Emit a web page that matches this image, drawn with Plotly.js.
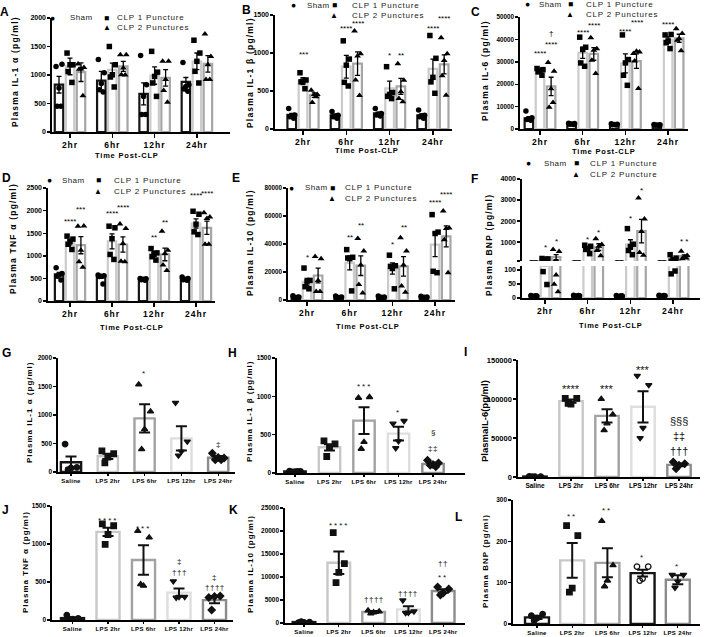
<!DOCTYPE html>
<html><head><meta charset="utf-8">
<script src="https://cdn.plot.ly/plotly-3.0.1.min.js"></script>
<style>html,body{margin:0;padding:0;background:#fff;}</style>
</head><body><div id="chart" style="width:709px;height:637px;"></div>
<script>
// ================= DATA =================
const timeLabels = ['2hr','6hr','12hr','24hr'];
const groupNames = ['Sham','CLP 1 Puncture','CLP 2 Punctures'];
const groupNamesF = ['Sham','CLP 1 Puncture','CLP 2 Puncture'];
const lpsLabels = ['Saline','LPS 2hr','LPS 6hr','LPS 12hr','LPS 24hr'];

// A: IL-1 alpha (CLP)
const A_sham = [830, 900, 670, 880];
const A_clp1 = [1150, 1090, 990, 1240];
const A_clp2 = [1050, 1150, 950, 1195];
const A_sham_err = [146, 164, 193, 76];
const A_clp1_err = [146, 117, 152, 146];
const A_clp2_err = [164, 88, 146, 146];
const A_sham_pts = [[1150,1190,770,450,450],[1270,1040,850,740,700],[1340,830,625,305,305],[1220,830,800,755,715]];
const A_clp1_pts = [[1385,1180,1180,1060,870],[1500,1180,1005,965,790],[1415,1050,975,860,625],[1610,1385,1240,1065,860]];
const A_clp2_pts = [[1195,1130,1105,1100,635],[1355,1355,1125,1005,1000],[1240,1240,920,730,520],[1720,1325,1180,920,920]];
const A_sig = [];

// B: IL-1 beta (CLP)
const B_sham = [185, 180, 205, 180];
const B_clp1 = [630, 820, 535, 790];
const B_clp2 = [445, 860, 560, 850];
const B_sham_err = [20, 15, 18, 18];
const B_clp1_err = [45, 150, 95, 130];
const B_clp2_err = [30, 155, 105, 125];
const B_sham_pts = [[270,185,170,160,140],[230,180,170,160,140],[270,205,195,185,170],[250,180,170,160,140]];
const B_clp1_pts = [[740,645,630,620,530],[1160,920,840,614,566],[820,480,455,430,400],[1230,930,680,620,470]];
const B_clp2_pts = [[510,455,455,350,425],[1290,990,960,645,440],[860,640,490,400,360],[1200,990,900,700,445]];
const B_sig = [[0,1,'***',1009],[1,1,'****',1347],[1,2,'****',1421],[2,1,'*',996],[2,2,'**',996],[3,1,'****',1355],[3,2,'****',1478]];

// C: IL-6 (CLP)
const C_sham = [4800, 2300, 2000, 1800];
const C_clp1 = [25700, 34000, 29300, 39800];
const C_clp2 = [19000, 33500, 30300, 40500];
const C_sham_err = [700, 150, 120, 100];
const C_clp1_err = [600, 2500, 4200, 1300];
const C_clp2_err = [4100, 2800, 3200, 1800];
const C_sham_pts = [[8000,5000,4500,4200,3900],[2600,2400,2200,2100,2000],[2300,2100,2000,1900,1800],[2000,1900,1800,1700,1600]];
const C_clp1_pts = [[27000,26500,26200,25500,24000],[41000,36500,35500,29500,28000],[42000,31000,29500,24000,19500],[42000,42200,39300,38500,35900]];
const C_clp2_pts = [[29700,25800,18000,9700,11800],[40700,35800,35200,30700,24800],[33700,34400,34700,30400,18100],[44800,42600,40300,39600,34900]];
const C_sig = [[0,1,'****',34430],[0,2,'****',38440],[0,2,'†',42590],[1,1,'****',43780],[1,2,'****',47040],[2,1,'****',44370],[2,2,'****',48230],[3,1,'****',47340],[3,2,'****',51200]];

// D: TNF alpha (CLP)
const D_sham = [590, 535, 480, 485];
const D_clp1 = [1295, 1320, 1045, 1715];
const D_clp2 = [1235, 1250, 1030, 1620];
const D_sham_err = [45, 35, 10, 12];
const D_clp1_err = [55, 165, 45, 100];
const D_clp2_err = [190, 170, 140, 145];
const D_sham_pts = [[735,610,580,550,465],[575,560,550,540,375],[500,490,480,470,460],[530,500,480,470,460]];
const D_clp1_pts = [[1435,1370,1320,1255,1140],[1655,1620,1380,1030,920],[1160,1065,1030,980,905],[1985,1920,1700,1530,1470]];
const D_clp2_pts = [[1655,1660,1125,870,745],[1705,1605,1270,880,870],[1545,1125,1050,795,675],[1955,1860,1825,1255,1255]];
const D_sig = [[0,1,'****',1809],[0,2,'***',2059],[1,1,'****',1985],[1,2,'****',2103],[2,1,'**',1456],[2,2,'**',1787],[3,1,'****',2375],[3,2,'****',2426]];

// E: IL-10 (CLP)
const E_sham = [2100, 2000, 2000, 1900];
const E_clp1 = [13000, 26500, 22500, 39500];
const E_clp2 = [17500, 24500, 24000, 45500];
const E_sham_err = [400, 300, 300, 300];
const E_clp1_err = [2500, 5000, 4000, 8500];
const E_clp2_err = [5200, 7000, 7000, 7500];
const E_sham_pts = [[3000,2200,1800,1500,2000],[2800,2200,1800,1500,1700],[2800,2100,1900,1600,1600],[2600,2100,1900,1500,1400]];
const E_clp1_pts = [[22800,14000,13000,9500,8000],[36000,30500,29500,30000,6500],[32000,24500,22500,24000,8000],[61000,48500,47500,20500,19500]];
const E_clp2_pts = [[31000,29500,14000,6000,6000],[44000,35000,25000,11000,5000],[44500,35000,25000,10000,5500],[63500,51500,51000,43000,19500]];
const E_sig = [[0,1,'*',32050],[1,1,'**',46290],[1,2,'**',54600],[2,1,'*',40830],[2,2,'**',52940],[3,1,'****',71220],[3,2,'****',76680]];

// F: BNP (CLP), broken axis
const F_sham = [7, 8, 7, 8];
const F_clp1 = [150, 700, 880, 200];
const F_clp2 = [280, 760, 1520, 330];
const F_sham_err = [1, 1, 1, 1];
const F_clp1_err = [35, 80, 230, 55];
const F_clp2_err = [120, 160, 560, 60];
const F_sham_pts = [[9,7,6,5,8],[10,8,7,6,9],[9,7,6,5,8],[10,8,7,6,9]];
const F_clp1_pts = [[220,200,180,94,48],[850,800,700,650,450],[1640,900,790,600,400],[400,240,160,86,96]];
const F_clp2_pts = [[650,555,82,49,22],[1160,890,800,600,350],[3100,2100,1500,500,370],[560,365,285,205,240]];
const F_sig = [[0,1,'*',841],[0,2,'*',1127],[1,1,'*',1238],[1,2,'*',1556],[2,1,'*',2238],[2,2,'*',3571],[3,2,'* *',1127]];

// G-L: LPS series
const G_vals = [170, 275, 940, 590, 250];
const G_err = [100, 45, 247, 212, 30];
const G_pts = [[490,80,70,40],[370,320,260,160],[1535,1060,750,400],[1215,535,360,290],[330,245,255,215,215]];
const G_sig = [[2,'*',1756],[4,'‡',477]];

const H_vals = [20, 335, 683, 513, 117];
const H_err = [3, 40, 175, 90, 20];
const H_pts = [[25,20,18,15,22],[420,380,330,215],[980,990,405,315],[645,680,415,325],[165,130,110,100,80]];
const H_sig = [[2,'***',1152],[3,'*',813],[4,'§',522],[4,'‡‡',326]];

const I_vals = [600, 97300, 78400, 90000, 15600];
const I_err = [100, 2000, 8500, 20000, 1800];
const I_pts = [[800,600,500,400],[100700,100700,93400,94300],[99900,80100,68600,60000],[129900,117900,63000,50100],[19300,17100,15000,10700]];
const I_sig = [[1,'****',115700],[2,'***',115700],[3,'***',139300],[4,'§§§',71570],[4,'‡‡',52290],[4,'†††',33000]];

const J_vals = [25, 1160, 790, 360, 262];
const J_err = [12, 55, 195, 55, 40];
const J_pts = [[65,20,12,8],[1265,1240,1125,995],[1170,1085,450,470],[510,305,305,295],[295,315,310,130]];
const J_sig = [[1,'****',1342],[2,'***',1224],[3,'‡',774],[3,'†††',621],[4,'‡',555],[4,'††††',424]];

const K_vals = [200, 13100, 2390, 2970, 6950];
const K_err = [60, 2450, 200, 650, 400];
const K_pts = [[100,200,150,300],[19650,12900,11000,8770],[2700,2500,2300,2050],[4930,2540,2250,2200],[7800,7400,6500,6100]];
const K_sig = [[1,'****',21590],[2,'††††',5145],[3,'††††',6376],[4,'††',13040],[4,'**',10360]];

const L_vals = [16, 154, 148, 123, 107];
const L_err = [4, 42, 35, 8, 11];
const L_pts = [[20,24,14,8],[238,214,87,77],[249,142,105,91],[139,139,110,105],[119,119,103,88]];
const L_sig = [[1,'**',265],[2,'**',280],[3,'*',166],[4,'*',143]];

// ================= LAYOUT / STYLE =================
const W = 709, H = 637;
const FONT = '"Liberation Sans", Arial, sans-serif';
const traces = [];
const ann = [];
const layout = {width:W, height:H, margin:{l:0,r:0,t:0,b:0,pad:0}, paper_bgcolor:'#fff', plot_bgcolor:'rgba(0,0,0,0)',
  showlegend:false, barmode:'overlay', annotations:ann, font:{family:FONT, color:'#000'}};
const nm = n => n === 1 ? '' : String(n);
const ls = (t, s) => '<span style="letter-spacing:' + s + 'px">' + t + '</span>';
const axBase = {showline:true, linecolor:'#000', linewidth:1.6, ticks:'outside', ticklen:3, tickwidth:1.4, tickcolor:'#000',
  showgrid:false, zeroline:false, fixedrange:true};
function fnt(size, bold, color){ return {family:FONT, size:size, weight: bold ? 700 : 400, color: color || '#000'}; }
function addText(px, py, text, opts){
  ann.push(Object.assign({x:px/W, y:1-py/H, xref:'paper', yref:'paper', text:text, showarrow:false,
    xanchor:'center', yanchor:'middle', font:fnt(8,false)}, opts || {}));
}

const topOff = [-0.26, 0, 0.26], topBW = 0.2;
const topColors = ['#151515', '#cbcbcb', '#a6a6a6'];
const topSyms = ['circle', 'square', 'triangle-up'];
const jit5 = [-0.07, 0.07, 0, -0.045, 0.045];

const TOPGEO = {
  A:{n:1,x0:52,x1:230,yT:18,yB:132,c0:70,sp:42.3,yr:[0,2000],dt:500,yf:7, yt:[15,72], xt:[127,155], leg:[53,68,107,115,18,28], let:[4,12]},
  B:{n:2,x0:275,x1:452,yT:15,yB:129,c0:303,sp:43.3,yr:[0,1500],dt:500,yf:7, yt:[250,73], xt:[367,150], leg:[293,305,334,350,5,15], let:[246,10]},
  C:{n:3,x0:520,x1:688,yT:17,yB:129,c0:540,sp:42.7,yr:[0,50000],dt:10000,yf:6.3, yt:[485,71], xt:[604,151], leg:[527,537,570,584,4,14], let:[476,12]},
  D:{n:4,x0:48,x1:215,yT:188,yB:301,c0:70,sp:42,yr:[0,2500],dt:500,yf:7, yt:[13,239], xt:[132,327], leg:[49,60,98,112,180,191], let:[6,178]},
  E:{n:5,x0:288,x1:455,yT:188,yB:300,c0:307,sp:42.7,yr:[0,80000],dt:20000,yf:6.3, yt:[250,243], xt:[368,326], leg:[291,303,332,343,188,198], let:[236,178]},
  F:{n:6,x0:522,x1:700,yT:266,yB:298,c0:545,sp:42.7,yr:[0,114],tv:[0,50,100],yf:7,
     up:{n:13,yT:179,yB:261,yr:[100,4000],tv:[100,1000,2000,3000,4000],tt:['','1000','2000','3000','4000']},
     yt:[489,245], xt:[611,325], leg:[528,542,576,588,163,174], let:[475,179]}
};

function buildTop(id, means, errs, pts, sig, ytitle, names){
  const g = TOPGEO[id];
  const n = g.n, xa = 'x' + nm(n), ya = 'y' + nm(n);
  const yfont = fnt(g.yf, true);
  layout['xaxis' + nm(n)] = Object.assign({}, axBase, {domain:[g.x0/W, g.x1/W], range:[(g.x0-g.c0)/g.sp, (g.x1-g.c0)/g.sp],
    anchor:ya, tickvals:[0,1,2,3], ticktext:timeLabels.map(t => ls(t, 1)), tickfont:fnt(8.5, true), ticklen:4});
  const yax = Object.assign({}, axBase, {domain:[1-g.yB/H, 1-g.yT/H], range:g.yr, anchor:xa, tickfont:yfont, tickformat:'d'});
  if (g.tv) yax.tickvals = g.tv; else { yax.tick0 = 0; yax.dtick = g.dt; }
  layout['yaxis' + nm(n)] = yax;
  const yas = [ya];
  let sigAxis = ya;
  if (g.up){
    const m = g.up.n;
    layout['yaxis' + nm(m)] = Object.assign({}, axBase, {domain:[1-g.up.yB/H, 1-g.up.yT/H], range:g.up.yr, anchor:xa,
      tickvals:g.up.tv, ticktext:g.up.tt, tickfont:yfont});
    yas.push('y' + nm(m));
    sigAxis = 'y' + nm(m);
  }
  yas.forEach(yy => {
    for (let s = 0; s < 3; s++){
      traces.push({type:'bar', x:[0,1,2,3], y:means[s], xaxis:xa, yaxis:yy, width:topBW, offset:topOff[s]-topBW/2,
        marker:{color:'#fff', line:{color:topColors[s], width:2.2}},
        error_y:{type:'data', array:errs[s], visible:true, color:'#000', thickness:1.3, width:2.5}, hoverinfo:'skip'});
    }
    for (let s = 0; s < 3; s++){
      const xs = [], ys = [];
      pts[s].forEach((arr, i) => arr.forEach((v, k) => { xs.push(i + topOff[s] + jit5[k % 5]); ys.push(v); }));
      traces.push({type:'scatter', mode:'markers', x:xs, y:ys, xaxis:xa, yaxis:yy,
        marker:{symbol:topSyms[s], size: s === 2 ? 6 : 5.5, color:'#000', line:{width:0}}, hoverinfo:'skip'});
    }
  });
  sig.forEach(t => {
    ann.push({x:t[0] + topOff[t[1]], y:t[3], xref:xa, yref:sigAxis, text:t[2], showarrow:false,
      xanchor:'center', yanchor:'middle', yshift: t[2].indexOf('*') >= 0 ? -2 : 0, font:fnt(8, false)});
  });
  // titles
  addText(g.yt[0], g.yt[1], ls(ytitle, 1.2), {textangle:-90, font:fnt(8.5, true)});
  addText(g.xt[0], g.xt[1], ls('Time Post-CLP', 0.8), {font:fnt(7.5, true)});
  // legend
  const lg = g.leg;
  const lf = fnt(8, false, '#222');
  addText(lg[0], lg[4], '●', {font:fnt(8.5, false)});
  addText(lg[1], lg[4], ls(names[0], 0.4), {xanchor:'left', font:lf});
  addText(lg[2], lg[4], '■', {font:fnt(8.5, false)});
  addText(lg[3], lg[4], ls(names[1], 0.8), {xanchor:'left', font:lf});
  addText(lg[2], lg[5], '▲', {font:fnt(8, false)});
  addText(lg[3], lg[5], ls(names[2], 0.8), {xanchor:'left', font:lf});
  addText(g.let[0], g.let[1], id, {font:fnt(12, true)});
}

const symStd = ['circle','square','triangle-up','triangle-down','diamond'];
const symL = ['circle','square','triangle-up','circle-open','triangle-down'];
const colStd = ['#151515','#c8c8c8','#a2a2a2','#dedede','#8c8c8c'];
const colL = ['#151515','#c8c8c8','#a2a2a2','#151515','#8c8c8c'];
const jitB = [-0.16, 0.16, 0, -0.08, 0.08];

const BOTGEO = {
  G:{n:7,x0:58,x1:235,yT:358,yB:472,c0:71,sp:36.8,yr:[0,2000],dt:500,bw:0.55, yt:[29,412], let:[6,353]},
  H:{n:8,x0:277,x1:465,yT:358,yB:473,c0:295,sp:34.5,yr:[0,1500],dt:500,bw:0.62, yt:[249,412], let:[232,353]},
  I:{n:9,x0:518,x1:700,yT:360,yB:477,c0:535,sp:36,yr:[0,150000],dt:50000,bw:0.65, yt:[484,421], let:[465,352]},
  J:{n:10,x0:52,x1:233,yT:506,yB:620,c0:72.5,sp:35.5,yr:[0,1500],dt:500,bw:0.65, yt:[25,562], let:[5,510]},
  K:{n:11,x0:285,x1:465,yT:508,yB:623,c0:304,sp:34.8,yr:[0,25000],dt:5000,bw:0.65, yt:[250,564], let:[233,510]},
  L:{n:12,x0:513,x1:700,yT:500,yB:624,c0:537,sp:35.2,yr:[0,300],dt:100,bw:0.68, yt:[485,561], let:[458,517]}
};

function buildBot(id, vals, errs, pts, sig, ytitle, syms, cols){
  const g = BOTGEO[id];
  const n = g.n, xa = 'x' + nm(n), ya = 'y' + nm(n);
  const isI = id === 'I';
  layout['xaxis' + nm(n)] = Object.assign({}, axBase, {domain:[g.x0/W, g.x1/W], range:[(g.x0-g.c0)/g.sp, (g.x1-g.c0)/g.sp],
    anchor:ya, tickvals:[0,1,2,3,4], ticktext: isI ? lpsLabels : lpsLabels.map(t => ls(t, 0.3)), tickfont:fnt(isI ? 6.5 : 6, true), ticklen:2});
  layout['yaxis' + nm(n)] = Object.assign({}, axBase, {domain:[1-g.yB/H, 1-g.yT/H], range:g.yr, anchor:xa,
    tick0:0, dtick:g.dt, tickformat:'d', tickfont:fnt(isI ? 7.5 : 6.5, true)});
  traces.push({type:'bar', x:[0,1,2,3,4], y:vals, xaxis:xa, yaxis:ya, width:g.bw, offset:-g.bw/2,
    marker:{color:'#fff', line:{color:cols, width:2.4}},
    error_y:{type:'data', array:errs, visible:true, color:'#111', thickness:2, width:5.5}, hoverinfo:'skip'});
  const xs = [], ys = [], ss = [];
  pts.forEach((arr, i) => arr.forEach((v, k) => { xs.push(i + jitB[k % 5]); ys.push(v); ss.push(syms[i]); }));
  traces.push({type:'scatter', mode:'markers', x:xs, y:ys, xaxis:xa, yaxis:ya,
    marker:{symbol:ss, size:5.5, color:'#111', line:{width:1.3, color:'#111'}}, hoverinfo:'skip'});
  sig.forEach(t => {
    const star = t[1].indexOf('*') >= 0;
    ann.push({x:t[0], y:t[2], xref:xa, yref:ya, text: isI ? t[1] : ls(t[1], star ? 2 : 0.5), showarrow:false,
      xanchor:'center', yanchor:'middle', yshift: star ? -2 : 0, font:fnt(isI ? 11 : 8, false, '#111')});
  });
  if (isI) addText(g.yt[0], g.yt[1], ytitle, {textangle:-90, font:fnt(9.5, true)});
  else addText(g.yt[0], g.yt[1], ls(ytitle, 1), {textangle:-90, font:fnt(8, true)});
  addText(g.let[0], g.let[1], id, {font:fnt(12, true)});
}

buildTop('A', [A_sham,A_clp1,A_clp2], [A_sham_err,A_clp1_err,A_clp2_err], [A_sham_pts,A_clp1_pts,A_clp2_pts], A_sig, 'Plasma IL-1 α (pg/ml)', groupNames);
buildTop('B', [B_sham,B_clp1,B_clp2], [B_sham_err,B_clp1_err,B_clp2_err], [B_sham_pts,B_clp1_pts,B_clp2_pts], B_sig, 'Plasma IL-1 β (pg/ml)', groupNames);
buildTop('C', [C_sham,C_clp1,C_clp2], [C_sham_err,C_clp1_err,C_clp2_err], [C_sham_pts,C_clp1_pts,C_clp2_pts], C_sig, 'Plasma IL-6 (pg/ml)', groupNames);
buildTop('D', [D_sham,D_clp1,D_clp2], [D_sham_err,D_clp1_err,D_clp2_err], [D_sham_pts,D_clp1_pts,D_clp2_pts], D_sig, 'Plasma TNF α (pg/ml)', groupNames);
buildTop('E', [E_sham,E_clp1,E_clp2], [E_sham_err,E_clp1_err,E_clp2_err], [E_sham_pts,E_clp1_pts,E_clp2_pts], E_sig, 'Plasma IL-10 (pg/ml)', groupNames);
buildTop('F', [F_sham,F_clp1,F_clp2], [F_sham_err,F_clp1_err,F_clp2_err], [F_sham_pts,F_clp1_pts,F_clp2_pts], F_sig, 'Plasma BNP (pg/ml)', groupNamesF);

buildBot('G', G_vals, G_err, G_pts, G_sig, 'Plasma IL-1 α (pg/ml)', symStd, colStd);
buildBot('H', H_vals, H_err, H_pts, H_sig, 'Plasma IL-1 β (pg/ml)', symStd, colStd);
buildBot('I', I_vals, I_err, I_pts, I_sig, 'PlasmaIL-6(pg/ml)', symStd, colStd);
buildBot('J', J_vals, J_err, J_pts, J_sig, 'Plasma TNF α (pg/ml)', symStd, colStd);
buildBot('K', K_vals, K_err, K_pts, K_sig, 'Plasma IL-10 (pg/ml)', symStd, colStd);
buildBot('L', L_vals, L_err, L_pts, L_sig, 'Plasma BNP (pg/ml)', symL, colL);

Plotly.newPlot('chart', traces, layout, {staticPlot:true, displayModeBar:false});
</script>
</body></html>
